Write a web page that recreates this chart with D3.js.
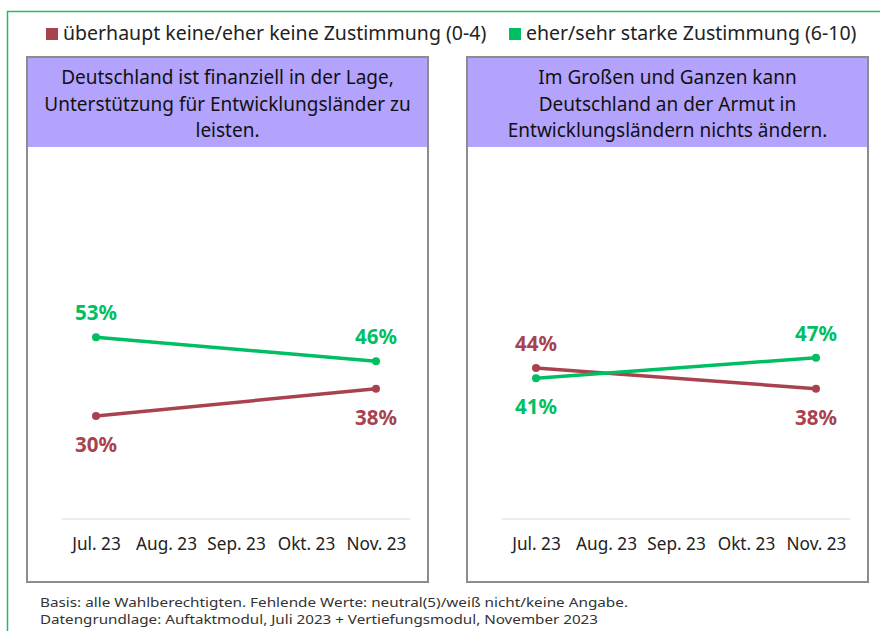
<!DOCTYPE html>
<html>
<head>
<meta charset="utf-8">
<script src="https://cdn.jsdelivr.net/npm/d3@7"></script>
<style>
  body { margin: 0; background: #fff; }
  svg { display: block; font-family: "Noto Sans", "Open Sans", sans-serif; }
</style>
</head>
<body>
<svg id="chart" width="880" height="631"></svg>
<script>
var months = ["Jul. 23", "Aug. 23", "Sep. 23", "Okt. 23", "Nov. 23"];
var seriesNames = ["überhaupt keine/eher keine Zustimmung (0-4)", "eher/sehr starke Zustimmung (6-10)"];
var seriesColors = ["#a8424f", "#00bf63"];

var panelTitles = [
    ["Deutschland ist finanziell in der Lage,", "Unterstützung für Entwicklungsländer zu", "leisten."],
    ["Im Großen und Ganzen kann", "Deutschland an der Armut in", "Entwicklungsländern nichts ändern."]
];
// values per panel: [disagree, agree], measured at Jul. 23 and Nov. 23
var panel1Disagree = [{m: "Jul. 23", v: 30}, {m: "Nov. 23", v: 38}];
var panel1Agree    = [{m: "Jul. 23", v: 53}, {m: "Nov. 23", v: 46}];
var panel2Disagree = [{m: "Jul. 23", v: 44}, {m: "Nov. 23", v: 38}];
var panel2Agree    = [{m: "Jul. 23", v: 41}, {m: "Nov. 23", v: 47}];

var footnotes = [
    "Basis: alle Wahlberechtigten. Fehlende Werte: neutral(5)/weiß nicht/keine Angabe.",
    "Datengrundlage: Auftaktmodul, Juli 2023 + Vertiefungsmodul, November 2023"
];

var svg = d3.select("#chart");

// outer green frame
svg.append("rect")
    .attr("x", 7.5).attr("y", 11.5)
    .attr("width", 900).attr("height", 700)
    .attr("fill", "none")
    .attr("stroke", "#1cbf5f")
    .attr("stroke-width", 1.5);

// legend
var legendPos = [46, 509];
seriesNames.forEach(function(name, i) {
    var g = svg.append("g").attr("transform", "translate(" + legendPos[i] + ",0)");
    g.append("rect")
        .attr("x", 0).attr("y", 28)
        .attr("width", 12).attr("height", 12)
        .attr("fill", seriesColors[i]);
    g.append("text")
        .attr("x", 17).attr("y", 40)
        .attr("font-size", 19.5)
        .attr("fill", "#222")
        .text(name);
});

var panels = [
    {x: 27, title: panelTitles[0], series: [panel1Disagree, panel1Agree]},
    {x: 467, title: panelTitles[1], series: [panel2Disagree, panel2Agree]}
];

var panelW = 401, panelTop = 57, panelH = 525;

var y = d3.scaleLinear()
    .domain([0, 100])
    .range([519, 176]);

panels.forEach(function(p) {
    var g = svg.append("g").attr("transform", "translate(" + p.x + ",0)");

    g.append("rect")
        .attr("x", 0).attr("y", panelTop)
        .attr("width", panelW).attr("height", panelH)
        .attr("fill", "#fff")
        .attr("stroke", "#8c8c8c")
        .attr("stroke-width", 2);

    g.append("rect")
        .attr("x", 1).attr("y", panelTop + 1)
        .attr("width", panelW - 2).attr("height", 89)
        .attr("fill", "#b3a3fd");

    g.selectAll("text.title")
        .data(p.title)
        .enter()
        .append("text")
        .attr("class", "title")
        .attr("x", panelW / 2)
        .attr("y", function(d, i) { return 84 + i * 26.5; })
        .attr("text-anchor", "middle")
        .attr("font-size", 19)
        .attr("fill", "#111")
        .text(function(d) { return d; });

    var x = d3.scalePoint()
        .domain(months)
        .range([69, 349]);

    // baseline
    g.append("line")
        .attr("x1", 35).attr("x2", 383)
        .attr("y1", y(0)).attr("y2", y(0))
        .attr("stroke", "#d9d9d9")
        .attr("stroke-width", 1);

    var axis = d3.axisBottom(x).tickSize(0).tickPadding(0);
    var ax = g.append("g")
        .attr("transform", "translate(0,538)")
        .call(axis);
    ax.attr("font-family", null);
    ax.select(".domain").remove();
    ax.selectAll("text")
        .attr("font-size", 17.2)
        .attr("fill", "#222")
        .attr("dy", "0.71em");

    var line = d3.line()
        .x(function(d) { return x(d.m); })
        .y(function(d) { return y(d.v); });

    p.series.forEach(function(s, si) {
        var other = p.series[1 - si];
        g.append("path")
            .attr("d", line(s))
            .attr("fill", "none")
            .attr("stroke", seriesColors[si])
            .attr("stroke-width", 3.5);

        g.selectAll("circle.s" + si)
            .data(s)
            .enter()
            .append("circle")
            .attr("class", "s" + si)
            .attr("cx", function(d) { return x(d.m); })
            .attr("cy", function(d) { return y(d.v); })
            .attr("r", 4)
            .attr("fill", seriesColors[si]);

        g.selectAll("text.l" + si)
            .data(s)
            .enter()
            .append("text")
            .attr("class", "l" + si)
            .attr("x", function(d) { return x(d.m); })
            .attr("y", function(d, i) {
                var above = d.v >= other[i].v;
                return above ? y(d.v) - 17 : y(d.v) + 36;
            })
            .attr("text-anchor", "middle")
            .attr("font-size", 20.5)
            .attr("font-weight", "bold")
            .attr("fill", seriesColors[si])
            .text(function(d) { return d.v + "%"; });
    });
});

// footnotes
var footWidths = [588, 558];
svg.selectAll("text.foot")
    .data(footnotes)
    .enter()
    .append("text")
    .attr("class", "foot")
    .attr("x", 40)
    .attr("y", function(d, i) { return 607 + i * 17; })
    .attr("font-size", 12.5)
    .attr("textLength", function(d, i) { return footWidths[i]; })
    .attr("lengthAdjust", "spacingAndGlyphs")
    .attr("fill", "#333")
    .text(function(d) { return d; });
</script>
</body>
</html>
